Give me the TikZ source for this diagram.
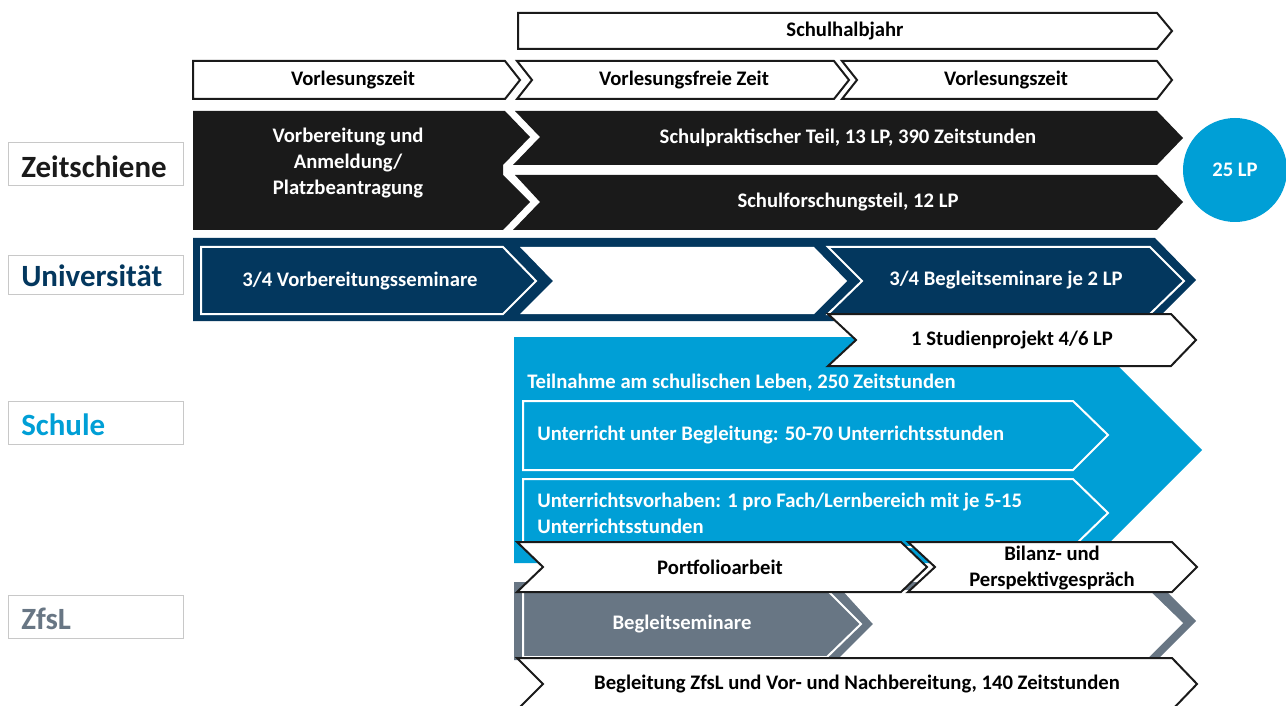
\documentclass[tikz,border=0pt]{standalone}
\usepackage{fontspec}
\setmainfont{Carlito}
\usepackage{xcolor}
\definecolor{zeitschwarz}{HTML}{1A1A1A}
\definecolor{uniblau}{HTML}{03375E}
\definecolor{schulblau}{HTML}{009FD6}
\definecolor{zfslgrau}{HTML}{687684}
\definecolor{rahmengrau}{HTML}{C8C8C8}

\begin{document}
\begin{tikzpicture}[x=0.75pt,y=0.75pt,yscale=-1,xscale=1,
  txt/.style={inner sep=0.75pt,align=center,font=\fontsize{15.5}{19.5}\selectfont\bfseries},
  rowlbl/.style={anchor=west,inner sep=0.75pt,font=\fontsize{23.2}{27}\selectfont\bfseries},
  pfeil/.style={draw=zeitschwarz,line width=1.5,fill=white},
  innen/.style={draw=white,line width=1.5}]

\fill[white] (0,0) rectangle (1286,706);
\clip (0,0) rectangle (1286,706);

% Zeilenbeschriftung
\draw[rahmengrau,fill=white] (8,142) rectangle (183,185);
\draw[rahmengrau,fill=white] (8,255) rectangle (183,294);
\draw[rahmengrau,fill=white] (8,401) rectangle (183,444);
\draw[rahmengrau,fill=white] (8,595) rectangle (183,638);
\node[rowlbl,text=zeitschwarz] (lzeit) at (20,167) {Zeitschiene};
\node[rowlbl,text=uniblau] (luni) at (20,276) {Universität};
\node[rowlbl,text=schulblau] (lschule) at (20,425) {Schule};
\node[rowlbl,text=zfslgrau] (lzfsl) at (20,619) {ZfsL};

% Zeitschiene
\draw[pfeil] (518,13) -- (1157,13) -- (1172,31) -- (1157,49) -- (518,49) -- cycle;
\draw[pfeil] (193,61) -- (505,61) -- (520,80) -- (505,99) -- (193,99) -- cycle;
\draw[pfeil] (517,61) -- (834,61) -- (849,80) -- (834,99) -- (517,99) -- (532,80) -- cycle;
\draw[pfeil] (842,61) -- (1157,61) -- (1172,80) -- (1157,99) -- (842,99) -- (857,80) -- cycle;

\fill[zeitschwarz] (193,111) -- (505,111) -- (530,137) -- (503,165) -- (503,175) -- (530,202) -- (503,230) -- (193,230) -- cycle;
\fill[zeitschwarz] (515,111) -- (1157,111) -- (1183,138) -- (1157,165) -- (513,165) -- (540,137) -- cycle;
\fill[zeitschwarz] (515,175) -- (1157,175) -- (1183,202) -- (1157,230) -- (513,230) -- (540,202) -- cycle;
\fill[schulblau] (1235,170) circle (52);

\node[txt] (halbjahr) at (845,31) {Schulhalbjahr};
\node[txt] (vzeit1) at (353,80) {Vorlesungszeit};
\node[txt] (vfrei) at (684,80) {Vorlesungsfreie Zeit};
\node[txt] (vzeit2) at (1006,80) {Vorlesungszeit};
\node[txt,text=white] (anmeld) at (348,163) {Vorbereitung und\\Anmeldung/\\Platzbeantragung};
\node[txt,text=white] (praxis) at (848,138) {Schulpraktischer Teil, 13 LP, 390 Zeitstunden};
\node[txt,text=white] (forsch) at (848,202) {Schulforschungsteil, 12 LP};
\node[txt,text=white] (summe) at (1235,170) {25 LP};

% Universitaet
\fill[uniblau] (193,238) -- (1155,238) -- (1196,280) -- (1155,321) -- (193,321) -- cycle;
\draw[innen,fill=uniblau] (201,247) -- (503,247) -- (536,281) -- (503,314) -- (201,314) -- cycle;
\fill[white] (520,247) -- (814,247) -- (847,281) -- (814,314) -- (520,314) -- (553,281) -- cycle;
\draw[innen,fill=uniblau] (828,247) -- (1150,247) -- (1184,281) -- (1150,314) -- (828,314) -- (862,281) -- cycle;
\node[txt,text=white] (vsem) at (360,281) {3/4 Vorbereitungsseminare};
\node[txt,text=white] (bsem) at (1006,280) {3/4 Begleitseminare je 2 LP};

% Schule
\fill[schulblau] (514,337) -- (1089,337) -- (1202,450) -- (1089,563) -- (514,563) -- cycle;
\draw[pfeil] (828,314) -- (1171,314) -- (1196,340) -- (1171,366) -- (828,366) -- (856,340) -- cycle;
\draw[innen] (523,401) -- (1073,401) -- (1108,435) -- (1073,470) -- (523,470) -- cycle;
\draw[innen] (523,479) -- (1073,479) -- (1108,513) -- (1073,547) -- (523,547) -- cycle;
\node[txt] (projekt) at (1012,340) {1 Studienprojekt 4/6 LP};
\node[txt,text=white,anchor=west] (teilnahme) at (526,383) {Teilnahme am schulischen Leben, 250 Zeitstunden};
\node[txt,text=white,anchor=west] (unterricht) at (536,435) {Unterricht unter Begleitung: 50-70 Unterrichtsstunden};
\node[txt,text=white,anchor=west,align=left] (vorhaben) at (536,513) {Unterrichtsvorhaben: 1 pro Fach/Lernbereich mit je 5-15\\Unterrichtsstunden};

% ZfsL
\fill[zfslgrau] (514,582) -- (1157,582) -- (1196,621) -- (1157,660) -- (514,660) -- cycle;
\fill[white] (842,590) -- (1149,590) -- (1183,623) -- (1149,657) -- (840,657) -- (873,624) -- cycle;
\draw[innen,fill=zfslgrau] (523,590) -- (827,590) -- (861,624) -- (827,657) -- (523,657) -- cycle;
\node[txt,text=white] (zsem) at (682,624) {Begleitseminare};

\draw[pfeil] (517,542) -- (901,542) -- (927,567) -- (901,592) -- (517,592) -- (543,567) -- cycle;
\draw[pfeil] (908,542) -- (1172,542) -- (1197,567) -- (1172,592) -- (908,592) -- (935,567) -- cycle;
\draw[pfeil] (517,658) -- (1172,658) -- (1197,684) -- (1172,710) -- (517,710) -- (543,684) -- cycle;
\node[txt] (portfolio) at (720,567) {Portfolioarbeit};
\node[txt] (bilanz) at (1052,568) {Bilanz- und\\Perspektivgespräch};
\node[txt] (begleit) at (857,684) {Begleitung ZfsL und Vor- und Nachbereitung, 140 Zeitstunden};

\end{tikzpicture}
\end{document}
